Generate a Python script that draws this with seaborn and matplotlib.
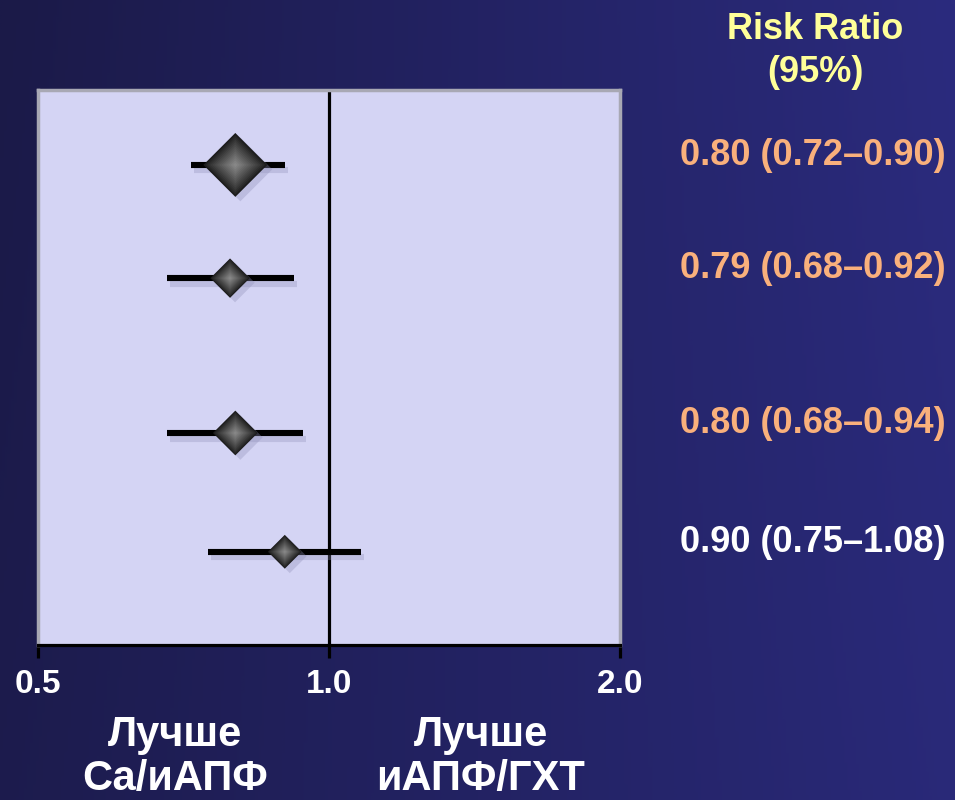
import numpy as np
import pandas as pd
import matplotlib.pyplot as plt
import matplotlib.patheffects as pe
from matplotlib.transforms import blended_transform_factory
from matplotlib.colors import LinearSegmentedColormap
import seaborn as sns

# --- datos del gráfico (Risk Ratio, IC 95%) ---
rr = [0.80, 0.79, 0.80, 0.90]
ci_low = [0.72, 0.68, 0.68, 0.75]
ci_high = [0.90, 0.92, 0.94, 1.08]
weight = [1.00, 0.38, 0.49, 0.28]
rr_labels = ['0.80 (0.72–0.90)', '0.79 (0.68–0.92)',
             '0.80 (0.68–0.94)', '0.90 (0.75–1.08)']
significant = [True, True, True, False]
x_ticks = [0.5, 1.0, 2.0]
x_ticklabels = ['0.5', '1.0', '2.0']
left_label = 'Лучше\nСа/иАПФ'
right_label = 'Лучше\nиАПФ/ГХТ'
header = 'Risk Ratio\n(95%)'

# posiciones verticales de las filas (layout)
row_pos = [1.35, 3.39, 6.18, 8.32]

df = pd.DataFrame({'rr': rr, 'lo': ci_low, 'hi': ci_high,
                   'w': weight, 'y': row_pos})

sns.set_style('white')
plt.rcParams['font.family'] = ['Liberation Sans', 'DejaVu Sans']
plt.rcParams['font.weight'] = 'bold'

fig = plt.figure(figsize=(9.55, 8), dpi=100)

# fondo degradado azul oscuro
bg = fig.add_axes([0, 0, 1, 1], zorder=-10)
gx, gy = np.meshgrid(np.linspace(0, 1, 300), np.linspace(0, 1, 300))
grad = 0.8 * gx + 0.2 * (1 - gy) * gx + 0.1 * gy
cmap_bg = LinearSegmentedColormap.from_list('bg', ['#1b1a48', '#2b2b7e'])
bg.imshow(grad, cmap=cmap_bg, aspect='auto', extent=[0, 1, 0, 1], origin='upper')
bg.axis('off')

ax = fig.add_axes([38 / 955, 1 - 645 / 800, 582 / 955, 555 / 800])
ax.set_facecolor('#d4d4f4')
ax.set_xscale('log')
ax.set_xlim(0.5, 2.0)
ax.set_ylim(10, 0)

ax.axvline(1.0, color='black', lw=2.3, zorder=2)

shadow = [pe.SimpleLineShadow(offset=(2, -4), shadow_color='#8a8ab4', alpha=0.3),
          pe.Normal()]
ax.hlines(df['y'], df['lo'], df['hi'], color='black', lw=4.4, zorder=3,
          path_effects=shadow)

# sombra de los diamantes
max_s = 1060
sns.scatterplot(x=np.array(rr) * 1.012, y=np.array(row_pos) + 0.08, size=weight,
                sizes=(max_s * 0.28, max_s), size_norm=(0.28, 1.0), marker='D',
                color='#9090b8', alpha=0.35, edgecolor='none', linewidth=0,
                legend=False, ax=ax, zorder=3)

# diamantes con sombreado radial (capas concéntricas)
n_layers = 14
for k in range(n_layers):
    f = 1.0 - k / n_layers
    g = 0.11 + 0.42 * (k / (n_layers - 1)) ** 0.9
    c = (g, g, g)
    sns.scatterplot(data=df, x='rr', y='y', size='w',
                    sizes=(max_s * 0.28 * f ** 2, max_s * f ** 2),
                    size_norm=(0.28, 1.0), marker='D', color=c,
                    edgecolor='none', linewidth=0, legend=False,
                    ax=ax, zorder=4 + k)

ax.set_xticks(x_ticks)
ax.set_xticklabels(x_ticklabels)
ax.xaxis.set_minor_locator(plt.NullLocator())
ax.set_yticks([])
ax.set_xlabel('')
ax.set_ylabel('')
ax.tick_params(axis='x', direction='out', length=9, width=2.3, color='black',
               labelcolor='white', labelsize=24, pad=8, bottom=True)
for lab in ax.get_xticklabels():
    lab.set_fontweight('bold')
for side in ['top', 'left', 'right']:
    ax.spines[side].set_color('#a8a8b4')
    ax.spines[side].set_linewidth(2.5)
ax.spines['bottom'].set_color('black')
ax.spines['bottom'].set_linewidth(2.3)

# etiquetas del lado derecho
trans = blended_transform_factory(fig.transFigure, ax.transData)
for y, txt, sig in zip(row_pos, rr_labels, significant):
    ax.text(680 / 955, y, txt, transform=trans,
            ha='left', va='baseline', fontsize=26, fontweight='bold',
            color='#f9b07c' if sig else 'white', clip_on=False)

fig.text(815 / 955, 1 - 51 / 800, header, ha='center', va='center',
         fontsize=26, fontweight='bold', color='#ffff99', linespacing=1.3)

fig.text(175 / 955, 1 - 757 / 800, left_label, ha='center', va='center',
         fontsize=30, fontweight='bold', color='white', linespacing=1.1)
fig.text(481 / 955, 1 - 757 / 800, right_label, ha='center', va='center',
         fontsize=30, fontweight='bold', color='white', linespacing=1.1)

fig.savefig('out.png', dpi=100)
